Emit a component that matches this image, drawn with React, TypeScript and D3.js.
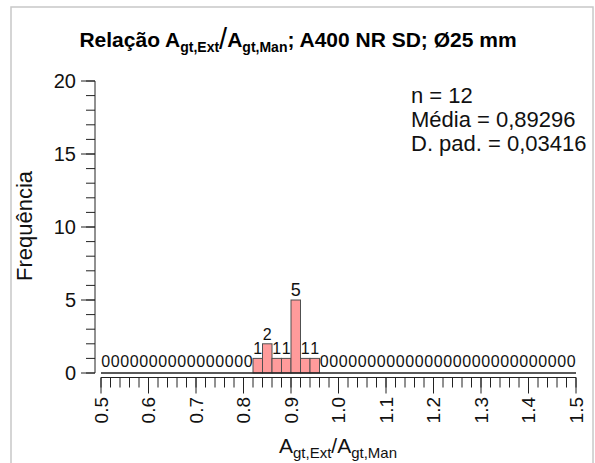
import React, { useEffect, useRef } from 'react'
import * as d3 from 'd3'

// histogram of Agt,Ext / Agt,Man, bins of 0.02 starting at 0.5
const binStart = 0.5
const binWidth = 0.02
const counts = [
  0, 0, 0, 0, 0, 0, 0, 0, 0, 0, 0, 0, 0, 0, 0, 0,
  1, 2, 1, 1, 5, 1, 1,
  0, 0, 0, 0, 0, 0, 0, 0, 0, 0, 0, 0, 0, 0, 0, 0, 0, 0, 0, 0, 0, 0, 0, 0, 0, 0, 0
]
const xTicks = [0.5, 0.6, 0.7, 0.8, 0.9, 1.0, 1.1, 1.2, 1.3, 1.4, 1.5]
const xTickLabels = ['0.5', '0.6', '0.7', '0.8', '0.9', '1.0', '1.1', '1.2', '1.3', '1.4', '1.5']
const yTicks = [0, 5, 10, 15, 20]
const statLines = ['n = 12', 'Média = 0,89296', 'D. pad. = 0,03416']

const FONT = "'Liberation Sans', Arial, sans-serif"
const W = 595
const H = 463

const App = () => {
  const svgRef = useRef<SVGSVGElement>(null)

  useEffect(() => {
    const svg = d3.select(svgRef.current)
    svg.selectAll('*').remove()

    const x = d3.scaleLinear().domain([0.5, 1.5]).range([101, 576])
    const y = d3.scaleLinear().domain([0, 20]).range([373, 81])

    // outer frame
    svg.append('rect')
      .attr('x', 11).attr('y', 7).attr('width', 582).attr('height', 470)
      .attr('fill', 'none').attr('stroke', '#c8c8c8').attr('stroke-width', 1.5)

    // title
    const title = svg.append('text')
      .attr('x', 298).attr('y', 47)
      .attr('text-anchor', 'middle')
      .attr('font-family', FONT).attr('font-weight', 'bold').attr('font-size', 21)
    title.append('tspan').text('Relação A')
    title.append('tspan').attr('font-size', 14).attr('dy', 5).text('gt,Ext')
    title.append('tspan').attr('font-weight', 'normal').attr('font-size', 29).attr('dy', -3).text('/')
    title.append('tspan').attr('dy', -2).text('A')
    title.append('tspan').attr('font-size', 14).attr('dy', 5).text('gt,Man')
    title.append('tspan').attr('dy', -5).text('; A400 NR SD; Ø25 mm')

    // bars
    const bins = counts.map((c, i) => ({ x0: binStart + i * binWidth, x1: binStart + (i + 1) * binWidth, c }))
    svg.selectAll('.bar')
      .data(bins.filter(b => b.c > 0))
      .join('rect')
      .attr('class', 'bar')
      .attr('x', b => x(b.x0))
      .attr('width', b => x(b.x1) - x(b.x0))
      .attr('y', b => y(b.c))
      .attr('height', b => y(0) - y(b.c))
      .attr('fill', '#ff9b9b')
      .attr('stroke', '#505050')
      .attr('stroke-width', 1)

    // bar count labels
    svg.selectAll('.count')
      .data(bins)
      .join('text')
      .attr('class', 'count')
      .attr('x', b => x((b.x0 + b.x1) / 2))
      .attr('y', b => y(b.c) - (b.c > 0 ? 4 : 6))
      .attr('text-anchor', 'middle')
      .attr('font-family', FONT)
      .attr('font-size', b => b.c === 5 ? 18 : 16)
      .attr('fill', '#111')
      .text(b => b.c)

    // baseline under the bars
    svg.append('line')
      .attr('x1', x(0.5)).attr('x2', x(1.5))
      .attr('y1', y(0)).attr('y2', y(0))
      .attr('stroke', '#222').attr('stroke-width', 1.3)

    // x axis
    const axisY = 377.5
    svg.append('line')
      .attr('x1', x(0.5)).attr('x2', x(1.5))
      .attr('y1', axisY).attr('y2', axisY)
      .attr('stroke', '#222').attr('stroke-width', 1)
    const edges = bins.map(b => b.x0).concat([1.5])
    svg.selectAll('.xminor')
      .data(edges)
      .join('line')
      .attr('class', 'xminor')
      .attr('x1', d => x(d)).attr('x2', d => x(d))
      .attr('y1', axisY).attr('y2', axisY + 10)
      .attr('stroke', '#222').attr('stroke-width', 1)
    svg.selectAll('.xmajor')
      .data(xTicks)
      .join('line')
      .attr('class', 'xmajor')
      .attr('x1', d => x(d)).attr('x2', d => x(d))
      .attr('y1', axisY).attr('y2', axisY + 16)
      .attr('stroke', '#222').attr('stroke-width', 1)
    svg.selectAll('.xlabel')
      .data(xTicks)
      .join('text')
      .attr('class', 'xlabel')
      .attr('transform', d => `translate(${x(d) + 6.5},397) rotate(-90)`)
      .attr('text-anchor', 'end')
      .attr('font-family', FONT).attr('font-size', 19)
      .attr('fill', '#111')
      .text((d, i) => xTickLabels[i])

    // y axis
    const axisX = 95
    svg.append('line')
      .attr('x1', axisX).attr('x2', axisX)
      .attr('y1', y(0)).attr('y2', y(20))
      .attr('stroke', '#222').attr('stroke-width', 1)
    svg.selectAll('.yminor')
      .data(d3.range(0, 21))
      .join('line')
      .attr('class', 'yminor')
      .attr('x1', axisX - 9).attr('x2', axisX)
      .attr('y1', d => y(d)).attr('y2', d => y(d))
      .attr('stroke', '#222').attr('stroke-width', 1)
    svg.selectAll('.ymajor')
      .data(yTicks)
      .join('line')
      .attr('class', 'ymajor')
      .attr('x1', axisX - 14).attr('x2', axisX)
      .attr('y1', d => y(d)).attr('y2', d => y(d))
      .attr('stroke', '#222').attr('stroke-width', 1)
    svg.selectAll('.ylabel')
      .data(yTicks)
      .join('text')
      .attr('class', 'ylabel')
      .attr('x', 76)
      .attr('y', d => y(d) + 7)
      .attr('text-anchor', 'end')
      .attr('font-family', FONT).attr('font-size', 20)
      .attr('fill', '#111')
      .text(d => d)

    // axis titles
    svg.append('text')
      .attr('transform', 'translate(32,226) rotate(-90)')
      .attr('text-anchor', 'middle')
      .attr('font-family', FONT).attr('font-size', 22)
      .attr('fill', '#111')
      .text('Frequência')

    const xTitle = svg.append('text')
      .attr('x', 338).attr('y', 453)
      .attr('text-anchor', 'middle')
      .attr('font-family', FONT).attr('font-size', 21)
      .attr('fill', '#111')
    xTitle.append('tspan').text('A')
    xTitle.append('tspan').attr('font-size', 15).attr('dy', 5).text('gt,Ext')
    xTitle.append('tspan').attr('dy', -5).text('/A')
    xTitle.append('tspan').attr('font-size', 15).attr('dy', 5).text('gt,Man')

    // stats box
    svg.selectAll('.stat')
      .data(statLines)
      .join('text')
      .attr('class', 'stat')
      .attr('x', 411)
      .attr('y', (d, i) => 103 + i * 24)
      .attr('font-family', FONT).attr('font-size', 22)
      .attr('fill', '#111')
      .text(d => d)
  }, [])

  return (
    <svg ref={svgRef} width={W} height={H}
      style={{ position: 'absolute', left: 0, top: 0, background: '#fff' }} />
  )
}

export default App
